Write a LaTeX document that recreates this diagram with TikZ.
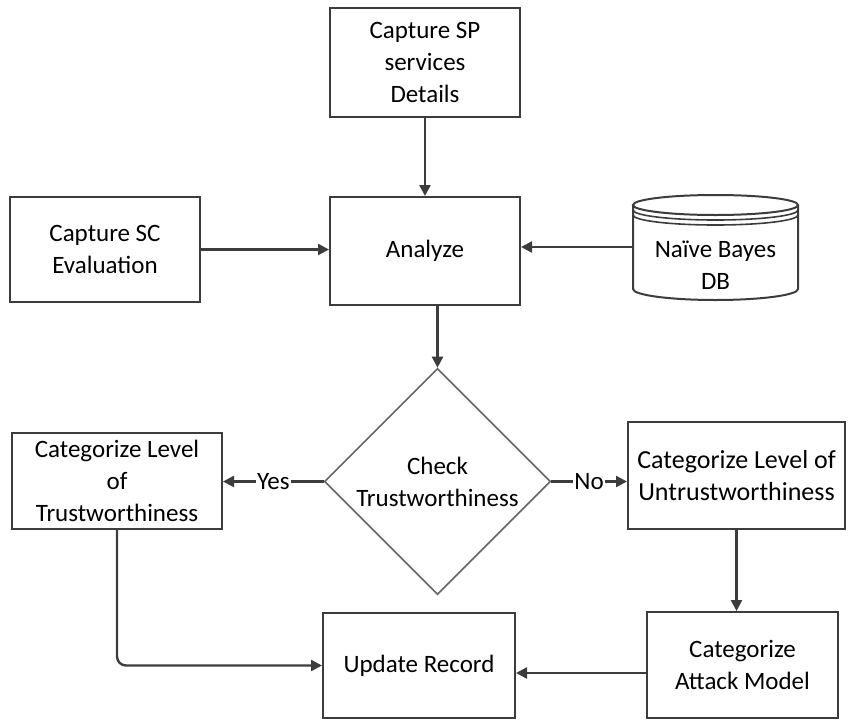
\documentclass[tikz,border=0pt]{standalone}
\usepackage{fontspec}
\setmainfont{Carlito}
\usetikzlibrary{shapes.geometric,arrows.meta}
\definecolor{lc}{RGB}{60,60,60}
\definecolor{dc}{RGB}{100,100,100}
\begin{document}
\begin{tikzpicture}[x=1pt,y=-1pt,
  txt/.style={font=\fontsize{25}{32}\selectfont,align=center},
  box/.style={txt,draw=lc,line width=2pt,fill=white,inner sep=0pt},
  conn/.style={draw=lc,line width=2.4pt,-{Triangle[length=11pt,width=11pt]}},
  lbl/.style={txt,fill=white,inner sep=1pt}]
\useasboundingbox (0,0) rectangle (850,720);
\node[box,minimum width=190pt,minimum height=109pt] (sp) at (425,62.5) {Capture SP\\services\\Details};
\node[box,minimum width=190pt,minimum height=108pt] (analyze) at (425,251) {Analyze};
\node[box,minimum width=190pt,minimum height=105pt] (sc) at (105,249.5) {Capture SC\\Evaluation};
% database cylinder
\node[minimum width=165pt,minimum height=105pt,inner sep=0pt] (db) at (715.5,247) {};
\draw[lc,line width=2pt,fill=white] (633,205) -- (633,289) arc[start angle=180,end angle=360,x radius=82.5pt,y radius=11pt] -- (798,205);
\draw[lc,line width=2pt,fill=white] (715.5,205) ellipse[x radius=82.5pt,y radius=10pt];
\draw[lc,line width=1.6pt] (633,210) arc[start angle=180,end angle=360,x radius=82.5pt,y radius=10pt];
\draw[lc,line width=1.6pt] (633,215) arc[start angle=180,end angle=360,x radius=82.5pt,y radius=10pt];
\node[txt] (dbtext) at (715.5,265) {Naïve Bayes\\DB};
\node[txt,shape=diamond,draw=dc,line width=1.6pt,fill=white,inner sep=0pt,minimum width=226pt,minimum height=226pt] (dia) at (437.5,481.5) {Check\\Trustworthiness};
\node[box,minimum width=210pt,minimum height=96pt] (trust) at (117,481) {Categorize Level\\of\\Trustworthiness};
\node[box,minimum width=217pt,minimum height=107pt,font=\fontsize{26}{32}\selectfont] (untrust) at (736.5,475.5) {Categorize Level of\\Untrustworthiness};
\node[box,minimum width=191pt,minimum height=106pt] (attack) at (742.5,665) {Categorize\\Attack Model};
\node[box,minimum width=192pt,minimum height=105pt] (update) at (419,665.5) {Update Record};
% connectors
\draw[conn] (sp.south) -- (analyze.north);
\draw[conn] (sc.east) -- (analyze.west |- sc.east);
\draw[conn] (db.west) -- (analyze.east |- db.west);
\draw[conn] (analyze.south -| dia.north) -- (dia.north);
\draw[conn] (dia.west) -- node[lbl] {Yes} (trust.east |- dia.west);
\draw[conn] (dia.east) -- node[lbl] {No} (untrust.west |- dia.east);
\draw[conn] (untrust.south) -- (untrust.south |- attack.north);
\draw[conn,rounded corners=9pt] (trust.south) |- (update.west);
\draw[conn] (attack.west |- 0,673) -- (update.east |- 0,673);
\end{tikzpicture}
\end{document}
